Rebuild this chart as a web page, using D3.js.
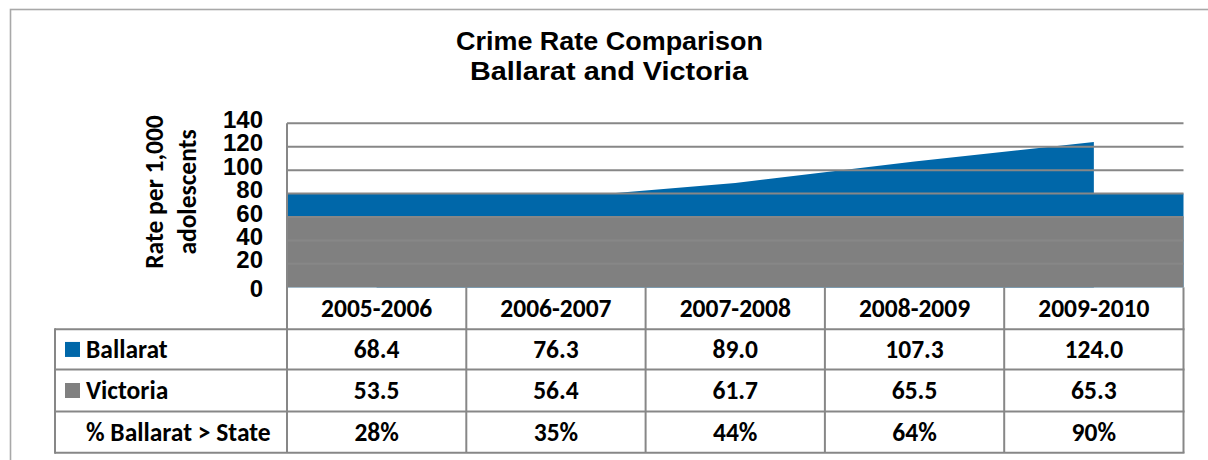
<!DOCTYPE html>
<html>
<head>
<meta charset="utf-8">
<script src="https://cdn.jsdelivr.net/npm/d3@7"></script>
<style>
  html, body { margin: 0; padding: 0; background: #ffffff; }
  svg { display: block; }
</style>
</head>
<body>
<svg id="chart" width="1208" height="460"></svg>
<script>
// ---- data ----
const categories = ["2005-2006", "2006-2007", "2007-2008", "2008-2009", "2009-2010"];
const ballarat = [68.4, 76.3, 89.0, 107.3, 124.0];
const victoria = [53.5, 56.4, 61.7, 65.5, 65.3];
const pctAboveState = ["28%", "35%", "44%", "64%", "90%"];
const yTicks = [0, 20, 40, 60, 80, 100, 120, 140];
const seriesNames = ["Ballarat", "Victoria"];
const seriesColors = ["#0067a9", "#808080"];
// flat fill levels laid under each series across the whole plot width
const floorLevels = [80, 60];

// ---- layout ----
const W = 1208, H = 460;
const plot = { left: 287, right: 1183.5, top: 123.3, bottom: 287.3 };
const tableLeft = 55;
const rowEdges = [287.3, 329.3, 369.6, 411.4, 452.7];
const gridColor = "#878787";
const calibriLike = "Carlito, Lato, 'Open Sans', sans-serif";
const arialLike = "'Liberation Sans', Arial, sans-serif";
const tableFont = 25.5;

const svg = d3.select("#chart");

const x = d3.scaleBand().domain(categories).range([plot.left, plot.right]).padding(0);
const y = d3.scaleLinear().domain([0, 140]).range([plot.bottom, plot.top]);
const cx = c => x(c) + x.bandwidth() / 2;

// outer frame
svg.append("rect")
  .attr("x", 10.5).attr("y", 9.5)
  .attr("width", W + 20).attr("height", H + 20)
  .attr("fill", "#ffffff")
  .attr("stroke", "#a8a8a8").attr("stroke-width", 1.6);

// title
const title = svg.append("text")
  .attr("text-anchor", "middle")
  .attr("font-family", arialLike)
  .attr("font-weight", "bold")
  .attr("font-size", 26)
  .attr("fill", "#000");
title.append("tspan").attr("x", 609.5).attr("y", 50)
  .attr("textLength", 307).attr("lengthAdjust", "spacingAndGlyphs")
  .text("Crime Rate Comparison");
title.append("tspan").attr("x", 609).attr("y", 79.5)
  .attr("textLength", 278).attr("lengthAdjust", "spacingAndGlyphs")
  .text("Ballarat and Victoria");

// series areas
const seriesValues = [ballarat, victoria];
const area = d3.area()
  .x(d => cx(d.cat))
  .y0(y(0))
  .y1(d => y(d.v));

seriesValues.forEach((vals, i) => {
  const pts = categories.map((c, j) => ({ cat: c, v: vals[j] }));
  svg.append("path")
    .datum(pts)
    .attr("d", area)
    .attr("fill", seriesColors[i]);
});

// flat floor fills
floorLevels.forEach((lv, i) => {
  svg.append("rect")
    .attr("x", plot.left)
    .attr("y", y(lv))
    .attr("width", plot.right - plot.left)
    .attr("height", y(0) - y(lv))
    .attr("fill", seriesColors[i]);
});

// horizontal gridlines
svg.append("g")
  .selectAll("line")
  .data(yTicks.filter(t => t > 0))
  .join("line")
  .attr("x1", plot.left).attr("x2", plot.right)
  .attr("y1", d => y(d)).attr("y2", d => y(d))
  .attr("stroke", gridColor).attr("stroke-width", 2);

// y tick labels
svg.append("g")
  .selectAll("text")
  .data(yTicks)
  .join("text")
  .attr("x", 263)
  .attr("y", d => y(d) + (d === 0 ? 10 : 4.5))
  .attr("text-anchor", "end")
  .attr("font-family", arialLike)
  .attr("font-weight", "bold")
  .attr("font-size", 24)
  .attr("fill", "#000")
  .text(d => d);

// y axis title
const yTitle = svg.append("text")
  .attr("transform", "translate(0,192) rotate(-90)")
  .attr("text-anchor", "middle")
  .attr("font-family", calibriLike)
  .attr("font-weight", "bold")
  .attr("font-size", 25.5)
  .attr("fill", "#000");
yTitle.append("tspan").attr("x", 0).attr("y", 163).text("Rate per 1,000");
yTitle.append("tspan").attr("x", 0).attr("y", 196).text("adolescents");

// ---- data table ----
const tbl = svg.append("g");

// column dividers (including plot left edge and table right edge)
const colEdges = categories.map(c => x(c)).concat([plot.right]);
tbl.selectAll("line.col")
  .data(colEdges)
  .join("line")
  .attr("class", "col")
  .attr("x1", d => d).attr("x2", d => d)
  .attr("y1", (d, i) => i === 0 ? plot.top : rowEdges[0])
  .attr("y2", rowEdges[rowEdges.length - 1])
  .attr("stroke", gridColor).attr("stroke-width", 2);

// row dividers
tbl.selectAll("line.row")
  .data(rowEdges.slice(1))
  .join("line")
  .attr("class", "row")
  .attr("x1", tableLeft).attr("x2", plot.right + 1)
  .attr("y1", d => d).attr("y2", d => d)
  .attr("stroke", gridColor).attr("stroke-width", 2);

// table left edge
tbl.append("line")
  .attr("x1", tableLeft).attr("x2", tableLeft)
  .attr("y1", rowEdges[1] - 1).attr("y2", rowEdges[4] + 1)
  .attr("stroke", gridColor).attr("stroke-width", 2);

const cellText = (sel, size) => sel
  .attr("font-family", calibriLike)
  .attr("font-weight", "bold")
  .attr("font-size", size)
  .attr("fill", "#000");

const rowMid = k => (rowEdges[k] + rowEdges[k + 1]) / 2;

// header row: categories
cellText(tbl.selectAll("text.cat").data(categories).join("text").attr("class", "cat"), tableFont)
  .attr("x", d => cx(d))
  .attr("y", rowMid(0) + 8.5)
  .attr("text-anchor", "middle")
  .text(d => d);

// value rows
const rows = [
  { label: seriesNames[0], key: seriesColors[0], cells: ballarat.map(v => v.toFixed(1)) },
  { label: seriesNames[1], key: seriesColors[1], cells: victoria.map(v => v.toFixed(1)) },
  { label: "% Ballarat > State", key: null, cells: pctAboveState }
];

rows.forEach((r, k) => {
  const mid = rowMid(k + 1);
  if (r.key) {
    tbl.append("rect")
      .attr("x", 65).attr("y", mid - 7.5)
      .attr("width", 15).attr("height", 15)
      .attr("fill", r.key);
  }
  cellText(tbl.append("text"), tableFont)
    .attr("x", 86).attr("y", mid + 8.5)
    .text(r.label);
  cellText(tbl.selectAll(null).data(r.cells).join("text"), tableFont)
    .attr("x", (d, j) => cx(categories[j]))
    .attr("y", mid + 8.5)
    .attr("text-anchor", "middle")
    .text(d => d);
});
</script>
</body>
</html>
